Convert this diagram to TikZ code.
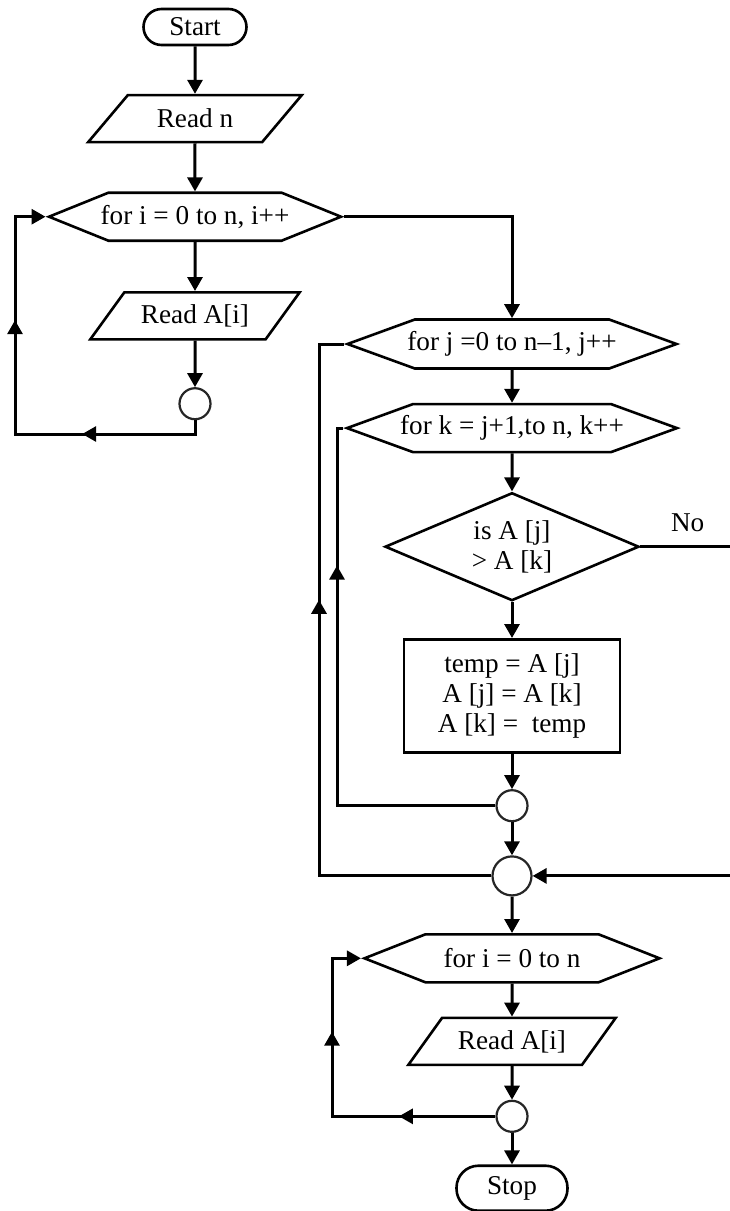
\documentclass[tikz,border=0pt]{standalone}
\usepackage{fontspec}
\setmainfont{Liberation Serif}
\usetikzlibrary{positioning,shapes.geometric,shapes.symbols,arrows.meta,decorations.markings}

\begin{document}
\begin{tikzpicture}[
        x=0.5pt, y=-0.5pt,
        font=\fontsize{13.6}{15}\selectfont,
        >={Triangle[length=7pt,width=7.5pt]},
        term/.style={draw, line width=1.3pt, rounded corners=#1, inner sep=1pt},
        io/.style={draw, line width=1.3pt, trapezium, trapezium left angle=47.5,
                   trapezium right angle=132.5, trapezium stretches=true,
                   minimum width=107pt, minimum height=23.5pt, inner sep=2pt},
        loopbox/.style={draw, line width=1.3pt, signal, signal to=east and west,
                        signal pointer angle=#1, minimum height=24pt, inner xsep=-10pt, inner ysep=2pt},
        dec/.style={draw, line width=1.3pt, diamond, aspect=2.35, inner sep=1pt,
                    minimum width=127pt, minimum height=54pt, align=center},
        proc/.style={draw, line width=1.3pt, rectangle, minimum width=108pt,
                     minimum height=56.5pt, align=center},
        junc/.style={draw=black!85, line width=1.1pt, circle, minimum size=15.5pt, inner sep=0pt},
        flow/.style={line width=1.5pt, ->},
        back/.style={line width=1.5pt, postaction={decorate},
                     decoration={markings, mark=at position #1 with {\arrow{>}}}},
        back2/.style 2 args={line width=1.5pt, postaction={decorate},
                     decoration={markings, mark=at position #1 with {\arrow{>}},
                                 mark=at position #2 with {\arrow{>}}}}
    ]
    \path[use as bounding box, fill=white] (0,0) rectangle (729,1211);

    % ---- read loop ----
    \node[term=9pt, minimum width=51.5pt, minimum height=18pt] (start) at (195,27) {Start};
    \node[io, below=23.75pt of start] (readn) {Read n};
    \node[loopbox=44, minimum width=146pt, below=24pt of readn] (fori) {for i = 0 to n, i++};
    \node[io, minimum width=105pt, below=24.5pt of fori] (reada) {Read A[i]};
    \node[junc, below=23.25pt of reada] (c1) {};

    % ---- sort loops ----
    \node[loopbox=40, minimum width=164.5pt, minimum height=24.5pt] (forj) at (512,344) {for j =0 to n–1, j++};
    \node[loopbox=40, minimum width=165pt, below=16.5pt of forj] (fork) {for k = j+1,to n, k++};
    \node[dec, below=19pt of fork] (cmp) {is A [j]\\> A [k]};
    \node[proc, below=18pt of cmp] (swap) {temp = A [j]\\ A [j] = A [k]\\A [k] = \ temp};
    \node[junc, below=17.75pt of swap] (c2) {};
    \node[junc, minimum size=19.5pt, below=16.5pt of c2] (c3) {};

    % ---- print loop ----
    \node[loopbox=43, minimum width=147.5pt, below=18.25pt of c3] (fori2) {for i = 0 to n};
    \node[io, minimum width=104pt, below=16.5pt of fori2] (reada2) {Read A[i]};
    \node[junc, below=16.75pt of reada2] (c4) {};
    \node[term=11pt, minimum width=55.5pt, minimum height=22.5pt, below=15.75pt of c4] (stop) {Stop};

    \coordinate (l1) at (15,434);
    \coordinate (l2) at (319,600);
    \coordinate (l3) at (337,700);
    \coordinate (l4) at (332,1050);
    \coordinate (r1) at (735,700);

    % ---- connectors ----
    \draw[flow] (start) -- (readn);
    \draw[flow] (readn) -- (fori);
    \draw[flow] (fori) -- (reada);
    \draw[flow] (reada) -- (c1);
    \draw[back2={63.25pt}{153.75pt}, ->] (c1.south) |- (l1) |- (fori.west);
    \draw[flow] (fori.east) -| (forj.north);
    \draw[flow] (forj) -- (fork);
    \draw[flow] (fork) -- (cmp);
    \draw[flow] (cmp) -- (swap);
    \draw[flow] (swap) -- (c2);
    \draw[flow] (c2) -- (c3);
    \draw[back=199.25pt] (c2.west) -| (l3) |- (fork.west);
    \draw[back=224.25pt] (c3.west) -| (l2) |- (forj.west);
    \draw[flow] (cmp.east) -| node[pos=0.25, above=3.5pt] {No} (r1) |- (c3.east);
    \draw[flow] (c3) -- (fori2);
    \draw[flow] (fori2) -- (reada2);
    \draw[flow] (reada2) -- (c4);
    \draw[back2={48.25pt}{124pt}, ->] (c4.west) -| (l4) |- (fori2.west);
    \draw[flow] (c4) -- (stop);
\end{tikzpicture}
\end{document}
